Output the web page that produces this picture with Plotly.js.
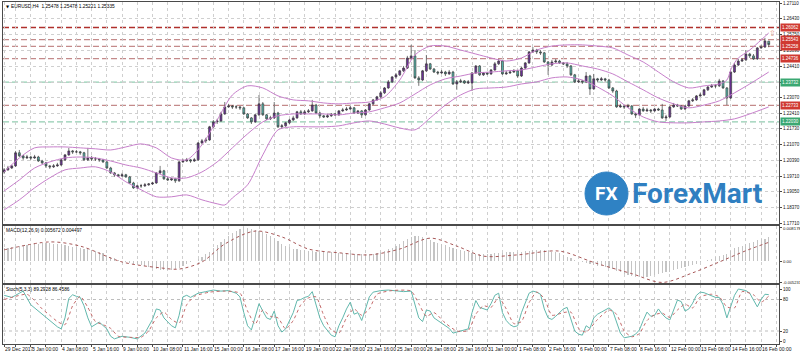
<!DOCTYPE html>
<html><head><meta charset="utf-8">
<script src="https://cdn.plot.ly/plotly-3.0.1.min.js"></script>
<style>html,body{margin:0;padding:0;background:#fff;}#chart{width:800px;height:354px;}</style>
</head><body><div id="chart"></div>
<script>
// ---------- DATA ----------
const timeLabels = ["29 Dec 2017","3 Jan 00:00","4 Jan 08:00","5 Jan 16:00","9 Jan 00:00","10 Jan 08:00","11 Jan 16:00","15 Jan 00:00","16 Jan 08:00","17 Jan 16:00","19 Jan 00:00","22 Jan 08:00","23 Jan 16:00","25 Jan 00:00","26 Jan 08:00","29 Jan 16:00","31 Jan 00:00","1 Feb 08:00","2 Feb 16:00","6 Feb 00:00","7 Feb 08:00","8 Feb 16:00","12 Feb 00:00","13 Feb 08:00","14 Feb 16:00","16 Feb 00:00"];
const timeLabelIdx = [0,7,15,23,31,39,47,55,63,71,79,87,95,103,111,119,127,135,143,151,159,167,175,183,191,199];

const openP = [
1.1989,1.1998,1.2006,1.2015,1.2071,1.2058,1.2049,1.2053,1.2049,1.2053,
1.2036,1.2028,1.2015,1.2011,1.2015,1.2019,1.2041,1.2062,1.2079,1.2075,
1.2075,1.2071,1.2041,1.2049,1.2045,1.2045,1.2041,1.2032,1.2006,1.1985,
1.1977,1.1972,1.1977,1.1968,1.1942,1.1921,1.1930,1.1930,1.1934,1.1938,
1.1942,1.1985,1.1994,1.1960,1.1955,1.1960,1.1951,1.2032,1.2036,1.2041,
1.2036,1.2041,1.2113,1.2122,1.2126,1.2182,1.2203,1.2207,1.2237,1.2267,
1.2271,1.2267,1.2267,1.2263,1.2237,1.2220,1.2203,1.2233,1.2280,1.2233,
1.2216,1.2220,1.2241,1.2182,1.2186,1.2199,1.2211,1.2220,1.2246,1.2237,
1.2246,1.2250,1.2275,1.2241,1.2229,1.2224,1.2229,1.2237,1.2233,1.2250,
1.2254,1.2258,1.2263,1.2241,1.2250,1.2233,1.2254,1.2280,1.2297,1.2310,
1.2327,1.2348,1.2374,1.2395,1.2404,1.2421,1.2433,1.2476,1.2485,1.2391,
1.2382,1.2421,1.2451,1.2429,1.2416,1.2412,1.2416,1.2408,1.2416,1.2365,
1.2374,1.2378,1.2369,1.2369,1.2412,1.2442,1.2404,1.2412,1.2408,1.2425,
1.2451,1.2463,1.2408,1.2412,1.2416,1.2421,1.2399,1.2433,1.2455,1.2502,
1.2510,1.2502,1.2498,1.2459,1.2446,1.2459,1.2463,1.2455,1.2451,1.2442,
1.2404,1.2374,1.2378,1.2374,1.2399,1.2344,1.2387,1.2382,1.2387,1.2382,
1.2348,1.2335,1.2267,1.2271,1.2267,1.2271,1.2237,1.2233,1.2258,1.2250,
1.2254,1.2250,1.2258,1.2254,1.2220,1.2224,1.2267,1.2275,1.2271,1.2258,
1.2271,1.2293,1.2297,1.2314,1.2318,1.2340,1.2352,1.2357,1.2357,1.2378,
1.2348,1.2305,1.2416,1.2446,1.2463,1.2468,1.2493,1.2485,1.2472,1.2519,
1.2523,1.25478];
const highP = [
1.2006,1.2015,1.2019,1.2079,1.2083,1.2062,1.2062,1.2058,1.2062,1.2058,
1.2041,1.2032,1.2019,1.2023,1.2028,1.2045,1.2066,1.2092,1.2083,1.2083,
1.2079,1.2075,1.2092,1.2058,1.2053,1.2049,1.2045,1.2036,1.2011,1.1989,
1.1981,1.1985,1.1981,1.1972,1.1947,1.1934,1.1938,1.1942,1.1942,1.1947,
1.1989,1.2015,1.1998,1.1968,1.1964,1.1964,1.2036,1.2045,1.2049,1.2045,
1.2049,1.2117,1.2130,1.2135,1.2186,1.2211,1.2216,1.2246,1.2288,1.2280,
1.2275,1.2275,1.2271,1.2267,1.2241,1.2224,1.2237,1.2318,1.2288,1.2237,
1.2229,1.2288,1.2246,1.2194,1.2203,1.2216,1.2229,1.2250,1.2254,1.2254,
1.2258,1.2297,1.2280,1.2246,1.2233,1.2237,1.2241,1.2241,1.2254,1.2263,
1.2267,1.2271,1.2267,1.2254,1.2254,1.2258,1.2284,1.2301,1.2314,1.2335,
1.2352,1.2382,1.2399,1.2412,1.2425,1.2442,1.2485,1.2532,1.2510,1.2399,
1.2425,1.2489,1.2455,1.2433,1.2421,1.2425,1.2421,1.2425,1.2421,1.2382,
1.2387,1.2382,1.2382,1.2416,1.2446,1.2446,1.2416,1.2416,1.2429,1.2459,
1.2472,1.2468,1.2421,1.2425,1.2429,1.2425,1.2438,1.2459,1.2506,1.2523,
1.2515,1.2510,1.2502,1.2463,1.2468,1.2472,1.2468,1.2459,1.2459,1.2446,
1.2408,1.2387,1.2382,1.2416,1.2404,1.2408,1.2391,1.2395,1.2391,1.2387,
1.2352,1.2340,1.2280,1.2275,1.2280,1.2275,1.2241,1.2263,1.2267,1.2263,
1.2258,1.2263,1.2263,1.2280,1.2233,1.2271,1.2284,1.2280,1.2275,1.2275,
1.2297,1.2305,1.2318,1.2327,1.2344,1.2357,1.2365,1.2365,1.2387,1.2382,
1.2352,1.2421,1.2455,1.2472,1.2476,1.2510,1.2498,1.2493,1.2523,1.2532,
1.2562,1.25478];
const lowP = [
1.1981,1.1994,1.2002,1.2011,1.2053,1.2041,1.2045,1.2041,1.2045,1.2032,
1.2023,1.2006,1.2002,1.2006,1.2011,1.2015,1.2036,1.2058,1.2066,1.2071,
1.2062,1.2036,1.2036,1.2036,1.2036,1.2032,1.2028,1.2002,1.1981,1.1968,
1.1968,1.1968,1.1964,1.1938,1.1917,1.1917,1.1921,1.1925,1.1930,1.1934,
1.1938,1.1981,1.1955,1.1951,1.1951,1.1942,1.1947,1.2028,1.2032,1.2028,
1.2032,1.2036,1.2109,1.2113,1.2122,1.2177,1.2194,1.2203,1.2233,1.2263,
1.2258,1.2258,1.2254,1.2233,1.2216,1.2194,1.2199,1.2229,1.2229,1.2211,
1.2211,1.2216,1.2177,1.2173,1.2182,1.2194,1.2207,1.2216,1.2233,1.2233,
1.2241,1.2246,1.2237,1.2220,1.2220,1.2220,1.2224,1.2229,1.2229,1.2246,
1.2250,1.2254,1.2237,1.2237,1.2220,1.2229,1.2250,1.2275,1.2293,1.2305,
1.2322,1.2344,1.2369,1.2387,1.2399,1.2416,1.2429,1.2468,1.2387,1.2357,
1.2378,1.2416,1.2425,1.2412,1.2404,1.2408,1.2399,1.2404,1.2361,1.2340,
1.2369,1.2365,1.2365,1.2335,1.2408,1.2399,1.2399,1.2404,1.2404,1.2421,
1.2446,1.2404,1.2404,1.2408,1.2412,1.2391,1.2395,1.2429,1.2451,1.2498,
1.2493,1.2489,1.2455,1.2404,1.2442,1.2455,1.2451,1.2446,1.2433,1.2399,
1.2369,1.2369,1.2365,1.2369,1.2318,1.2340,1.2374,1.2378,1.2374,1.2344,
1.2327,1.2263,1.2263,1.2258,1.2263,1.2233,1.2220,1.2229,1.2246,1.2246,
1.2241,1.2246,1.2250,1.2216,1.2207,1.2220,1.2263,1.2267,1.2254,1.2254,
1.2267,1.2288,1.2293,1.2310,1.2314,1.2335,1.2348,1.2348,1.2352,1.2344,
1.2275,1.2301,1.2412,1.2442,1.2459,1.2463,1.2476,1.2468,1.2468,1.2515,
1.2519,1.25221];
const closeP = [
1.1998,1.2006,1.2015,1.2071,1.2058,1.2049,1.2053,1.2049,1.2053,1.2036,
1.2028,1.2015,1.2011,1.2015,1.2019,1.2041,1.2062,1.2079,1.2075,1.2075,
1.2071,1.2041,1.2049,1.2045,1.2045,1.2041,1.2032,1.2006,1.1985,1.1977,
1.1972,1.1977,1.1968,1.1942,1.1921,1.1930,1.1930,1.1934,1.1938,1.1942,
1.1985,1.1994,1.1960,1.1955,1.1960,1.1951,1.2032,1.2036,1.2041,1.2036,
1.2041,1.2113,1.2122,1.2126,1.2182,1.2203,1.2207,1.2237,1.2267,1.2271,
1.2267,1.2267,1.2263,1.2237,1.2220,1.2203,1.2233,1.2280,1.2233,1.2216,
1.2220,1.2241,1.2182,1.2186,1.2199,1.2211,1.2220,1.2246,1.2237,1.2246,
1.2250,1.2275,1.2241,1.2229,1.2224,1.2229,1.2237,1.2233,1.2250,1.2254,
1.2258,1.2263,1.2241,1.2250,1.2233,1.2254,1.2280,1.2297,1.2310,1.2327,
1.2348,1.2374,1.2395,1.2404,1.2421,1.2433,1.2476,1.2485,1.2391,1.2382,
1.2421,1.2451,1.2429,1.2416,1.2412,1.2416,1.2408,1.2416,1.2365,1.2374,
1.2378,1.2369,1.2374,1.2412,1.2442,1.2404,1.2412,1.2408,1.2425,1.2451,
1.2463,1.2408,1.2412,1.2416,1.2421,1.2399,1.2433,1.2455,1.2502,1.2510,
1.2502,1.2498,1.2459,1.2446,1.2459,1.2463,1.2455,1.2451,1.2442,1.2404,
1.2374,1.2378,1.2374,1.2399,1.2344,1.2387,1.2382,1.2387,1.2382,1.2348,
1.2335,1.2267,1.2271,1.2267,1.2271,1.2237,1.2233,1.2258,1.2250,1.2254,
1.2250,1.2258,1.2254,1.2220,1.2224,1.2267,1.2275,1.2271,1.2258,1.2271,
1.2293,1.2297,1.2314,1.2318,1.2340,1.2352,1.2357,1.2357,1.2378,1.2348,
1.2305,1.2416,1.2446,1.2463,1.2468,1.2493,1.2485,1.2472,1.2519,1.2523,
1.2549,1.25335];

// Bollinger bands (bar index, price)
const bbUpIdx = [0,4,8,12,16,20,24,28,32,36,40,44,48,52,56,60,64,68,72,76,80,84,88,92,96,100,104,108,112,116,120,124,128,132,136,140,144,148,152,156,160,164,168,172,176,180,184,188,190,191,192,193,196,199,201];
const bbUp = [1.1989,1.2049,1.2092,1.2096,1.2096,1.2092,1.2088,1.2083,1.2096,1.2109,1.2092,1.2049,1.2041,1.2105,1.2211,1.2318,1.2357,1.2348,1.2314,1.2297,1.2293,1.2284,1.2280,1.2284,1.2288,1.2310,1.2382,1.2489,1.2527,1.2527,1.2510,1.2493,1.2476,1.2463,1.2476,1.2510,1.2527,1.2532,1.2532,1.2527,1.2519,1.2489,1.2459,1.2416,1.2374,1.2348,1.2357,1.2365,1.2382,1.2425,1.2455,1.2476,1.2510,1.2553,1.2583];
const bbMidIdx = [0,4,8,12,16,20,24,28,32,36,40,44,48,52,56,60,64,68,72,76,80,84,88,92,96,100,104,108,112,116,120,124,128,132,136,140,144,148,152,156,160,164,168,172,176,180,184,188,192,196,201];
const bbMid = [1.1908,1.1955,1.2006,1.2032,1.2049,1.2053,1.2049,1.2036,1.2019,1.2006,1.1985,1.1964,1.1964,1.1989,1.2032,1.2092,1.2152,1.2203,1.2229,1.2237,1.2237,1.2237,1.2233,1.2241,1.2246,1.2263,1.2284,1.2322,1.2361,1.2387,1.2399,1.2412,1.2416,1.2421,1.2425,1.2438,1.2451,1.2455,1.2442,1.2429,1.2408,1.2374,1.2340,1.2305,1.2280,1.2263,1.2275,1.2293,1.2327,1.2365,1.2416];
const bbLowIdx = [0,4,8,12,16,20,24,28,32,36,40,44,48,52,56,58,60,64,68,72,76,80,84,88,92,96,100,104,108,112,116,120,124,128,132,136,140,144,148,152,156,160,164,168,172,176,180,184,188,192,196,201];
const bbLow = [1.1827,1.1870,1.1921,1.1964,1.1998,1.2006,1.2011,1.1989,1.1947,1.1913,1.1883,1.1883,1.1891,1.1870,1.1853,1.1848,1.1878,1.1934,1.2062,1.2169,1.2182,1.2182,1.2182,1.2186,1.2199,1.2207,1.2194,1.2177,1.2169,1.2220,1.2275,1.2318,1.2344,1.2348,1.2352,1.2365,1.2374,1.2391,1.2395,1.2382,1.2352,1.2314,1.2263,1.2224,1.2203,1.2199,1.2199,1.2203,1.2207,1.2216,1.2237,1.2267];

// Horizontal levels
const redLevels = [1.26062,1.25543,1.25258,1.24736,1.22733];
const greenLevels = [1.23732,1.22030];
const priceTicks = [1.27110,1.26430,1.25750,1.25090,1.24410,1.23730,1.23070,1.22410,1.21730,1.21070,1.20390,1.19710,1.19050,1.18370,1.17710];

// MACD(12,26,9)
const macdMain = [
0.0031,0.0032,0.0033,0.0035,0.0036,0.0038,0.0039,0.0040,0.0041,0.0042,
0.0043,0.0043,0.0043,0.0042,0.0041,0.0040,0.0038,0.0036,0.0035,0.0033,
0.0032,0.0030,0.0028,0.0026,0.0024,0.0022,0.0019,0.0015,0.0011,0.0007,
0.0003,0.0000,-0.0002,-0.0004,-0.0006,-0.0008,-0.0010,-0.0012,-0.0014,-0.0017,
-0.0019,-0.0021,-0.0022,-0.0022,-0.0021,-0.0019,-0.0016,-0.0012,-0.0008,-0.0003,
0.0001,0.0005,0.0010,0.0016,0.0023,0.0031,0.0038,0.0045,0.0052,0.0060,
0.0068,0.0073,0.0077,0.0081,0.0080,0.0077,0.0075,0.0073,0.0070,0.0066,
0.0061,0.0055,0.0048,0.0041,0.0036,0.0033,0.0030,0.0028,0.0027,0.0026,
0.0025,0.0024,0.0023,0.0022,0.0022,0.0021,0.0021,0.0020,0.0020,0.0020,
0.0019,0.0019,0.0018,0.0018,0.0017,0.0017,0.0017,0.0018,0.0019,0.0021,
0.0024,0.0028,0.0032,0.0036,0.0042,0.0048,0.0054,0.0058,0.0060,0.0060,
0.0058,0.0055,0.0051,0.0047,0.0044,0.0041,0.0038,0.0035,0.0032,0.0029,
0.0026,0.0024,0.0022,0.0020,0.0018,0.0017,0.0017,0.0017,0.0018,0.0019,
0.0020,0.0020,0.0021,0.0021,0.0022,0.0022,0.0023,0.0024,0.0025,0.0026,
0.0027,0.0027,0.0026,0.0025,0.0023,0.0022,0.0019,0.0015,0.0011,0.0007,
0.0003,0.0000,-0.0003,-0.0005,-0.0008,-0.0010,-0.0011,-0.0012,-0.0014,-0.0017,
-0.0020,-0.0023,-0.0027,-0.0030,-0.0033,-0.0035,-0.0037,-0.0038,-0.0038,-0.0037,
-0.0035,-0.0033,-0.0031,-0.0029,-0.0027,-0.0025,-0.0022,-0.0020,-0.0017,-0.0015,
-0.0012,-0.0009,-0.0006,-0.0003,0.0000,0.0003,0.0006,0.0009,0.0012,0.0015,
0.0016,0.0024,0.0031,0.0034,0.0037,0.0040,0.0043,0.0046,0.0050,0.0052,
0.0054,0.005672];
const macdSigIdx = [0,12,20,31,41,46,52,58,66,73,80,88,96,104,112,119,126,135,146,154,157,165,173,181,188,195,201];
const macdSig = [0.0027,0.0046,0.0036,-0.0002,-0.0016,-0.0019,-0.0002,0.0041,0.0072,0.0058,0.0029,0.0020,0.0015,0.0029,0.0055,0.0036,0.0012,0.0015,0.0024,0.0000,-0.0009,-0.0030,-0.0051,-0.0028,-0.0002,0.0025,0.004497];
const macdAxisLabels = ["0.008178","0.00","-0.005231"];
const macdAxisVals = [0.008178, 0, -0.005231];

// Stochastic(5,3,3)
const stochKIdx = [0,2,4,5,7,9,10,12,14,15,16,17,18,19,20,21,22,23,25,27,28,29,30,31,33,35,37,39,40,41,42,44,45,46,47,48,49,50,51,53,55,57,59,61,62,63,64,65,66,67,68,69,70,71,72,73,74,75,76,77,78,79,80,81,82,83,84,85,86,87,88,89,90,91,92,93,94,95,96,97,99,101,103,105,107,108,109,110,111,112,113,115,117,118,119,120,121,122,123,124,125,126,127,128,129,130,131,132,133,134,135,136,137,138,139,140,141,142,143,144,145,146,147,148,149,150,151,152,153,154,155,156,157,158,159,160,161,162,163,164,165,166,167,168,169,170,171,172,173,174,175,176,177,178,179,180,181,182,183,184,185,186,187,188,189,190,191,192,193,194,195,196,197,198,199,200,201];
const stochK = [88,84,92,96,70,58,52,41,28,24,45,82,89,86,84,68,45,28,37,24,10,5,7,10,8,5,16,42,62,60,45,30,26,50,85,88,84,88,92,95,98,96,97,92,85,55,30,22,48,72,58,45,42,58,30,18,24,40,55,78,80,84,86,95,72,45,30,22,12,9,30,45,62,75,52,55,40,62,85,94,97,98,96,95,96,70,45,38,60,58,45,35,25,16,18,20,22,24,55,78,65,62,60,72,88,92,55,40,32,28,30,55,75,92,96,94,90,62,45,42,48,55,62,65,40,20,14,12,30,25,45,52,56,60,64,58,35,16,7,8,10,14,22,40,56,48,50,62,52,45,41,60,79,76,58,62,73,88,94,93,90,86,84,84,70,45,65,88,100,99,97,92,78,66,80,90,89.2928];
const stochDIdx = [0,3,6,8,10,12,14,16,18,20,22,24,26,28,30,33,36,38,40,42,44,46,48,50,54,58,62,64,66,68,70,72,74,76,78,80,82,84,86,88,90,92,94,96,98,102,107,109,111,113,116,119,122,124,126,128,130,132,134,136,138,140,142,144,147,149,151,153,156,159,161,163,165,167,169,171,173,175,177,179,181,183,186,188,190,192,194,197,199,201];
const stochD = [80,86,90,78,62,50,38,32,68,86,65,38,32,25,10,8,8,20,45,56,42,35,70,86,94,96,92,58,33,60,48,45,24,40,70,83,85,50,22,16,45,62,50,62,90,97,96,72,48,55,35,20,21,52,68,65,84,62,34,38,74,94,82,50,55,56,25,18,42,60,52,20,9,15,40,51,54,46,60,71,64,85,90,85,66,64,95,89,75,86.4586];
const stochLevels = [80,20];
const stochAxisVals = [100,80,20,0];

// ---------- LAYOUT HELPERS ----------
const FONT = 'Liberation Sans, Arial, sans-serif';
const L = 3, R = 779, T = 2, B = 344;
const px = x => (x - L) / (R - L);
const py = y => (B - y) / (B - T);

const n = closeP.length;
const idx = Array.from({length: n}, (_, i) => i);

// grid ticks every 4 bars (labels every 8 bars drawn as annotations)
const tickVals = [];
for (let i = 0; i <= 203; i++) {
  if (timeLabelIdx.indexOf(i) >= 0 || (i >= 3 && (i - 3) % 8 === 0)) tickVals.push(i);
}

const BULL = '#6e2f9e', BEAR = '#55b9ae', WICK = '#3c3c3c';
const BB = '#c77fcb';

const traces = [
  {type:'candlestick', x: idx, open: openP, high: highP, low: lowP, close: closeP,
   xaxis:'x', yaxis:'y', whiskerwidth: 0, hoverinfo:'skip',
   increasing:{line:{color:WICK, width:0.7}, fillcolor:BULL},
   decreasing:{line:{color:WICK, width:0.7}, fillcolor:BEAR}},
  {type:'scatter', mode:'lines', x: bbUpIdx, y: bbUp, xaxis:'x', yaxis:'y', line:{color:BB, width:1, shape:'spline', smoothing:0.8}, hoverinfo:'skip'},
  {type:'scatter', mode:'lines', x: bbMidIdx, y: bbMid, xaxis:'x', yaxis:'y', line:{color:BB, width:1, shape:'spline', smoothing:0.8}, hoverinfo:'skip'},
  {type:'scatter', mode:'lines', x: bbLowIdx, y: bbLow, xaxis:'x', yaxis:'y', line:{color:BB, width:1, shape:'spline', smoothing:0.8}, hoverinfo:'skip'},
  {type:'bar', x: idx, y: macdMain, xaxis:'x2', yaxis:'y2', width:0.3, marker:{color:'#c4c4c4', line:{width:0}}, hoverinfo:'skip'},
  {type:'scatter', mode:'lines', x: macdSigIdx, y: macdSig, xaxis:'x2', yaxis:'y2', line:{color:'#a85858', width:1, dash:'dot', shape:'spline', smoothing:0.9}, hoverinfo:'skip'},
  {type:'scatter', mode:'lines', x: stochKIdx, y: stochK, xaxis:'x3', yaxis:'y3', line:{color:'#62b8ad', width:1}, hoverinfo:'skip'},
  {type:'scatter', mode:'lines', x: stochDIdx, y: stochD, xaxis:'x3', yaxis:'y3', line:{color:'#c46a6a', width:1, dash:'dot', shape:'spline', smoothing:0.6}, hoverinfo:'skip'}
];

const xBase = {range:[-0.3, 203.7], tickvals: tickVals, showgrid:true, gridcolor:'#cfcfcf', griddash:'dot', gridwidth:1,
  zeroline:false, showline:true, mirror:true, linecolor:'#4a4a4a', linewidth:1, ticks:'', showticklabels:false, fixedrange:true, automargin:false};
const yBase = {side:'right', zeroline:false, showline:true, mirror:true, linecolor:'#4a4a4a', linewidth:1, ticks:'outside', ticklen:2, tickcolor:'#4a4a4a',
  tickfont:{family:FONT, size:4.5, color:'#111'}, fixedrange:true, automargin:false};

const shapes = [];
redLevels.forEach((v, k) => shapes.push({type:'line', xref:'paper', x0:0, x1:1, yref:'y', y0:v, y1:v, layer:'below',
  line:{color: k === 0 ? '#b0302c' : '#c48a8a', width: k === 0 ? 1.4 : 1.2, dash:'6px,3px'}}));
greenLevels.forEach(v => shapes.push({type:'line', xref:'paper', x0:0, x1:1, yref:'y', y0:v, y1:v, layer:'below',
  line:{color:'#93cdb1', width:1.2, dash:'6px,3px'}}));
stochLevels.forEach(v => shapes.push({type:'line', xref:'paper', x0:0, x1:1, yref:'y3', y0:v, y1:v, layer:'below',
  line:{color:'#bdbdbd', width:1, dash:'dot'}}));
// logo disc
shapes.push({type:'circle', xref:'paper', yref:'paper', x0:px(585), x1:px(628), y0:py(215), y1:py(172), fillcolor:'#2f82c4', line:{color:'#2f82c4', width:1}, layer:'above'});

const annotations = [
  {xref:'paper', yref:'paper', x:px(4), y:py(6.5), xanchor:'left', yanchor:'middle', showarrow:false, text:'▼', font:{family:'DejaVu Sans', size:4, color:'#000'}},
  {xref:'paper', yref:'paper', x:px(9), y:py(6.5), xanchor:'left', yanchor:'middle', showarrow:false, text:'EURUSD,H4  1.25478 1.25478 1.25221 1.25335', font:{family:FONT, size:4.8, color:'#000'}},
  {xref:'paper', yref:'paper', x:px(4), y:py(230.5), xanchor:'left', yanchor:'middle', showarrow:false, text:'MACD(12,26,9) 0.005672 0.004497', font:{family:FONT, size:4.8, color:'#000'}},
  {xref:'paper', yref:'paper', x:px(4), y:py(289.5), xanchor:'left', yanchor:'middle', showarrow:false, text:'Stoch(5,3,3) 89.2928 86.4586', font:{family:FONT, size:4.8, color:'#000'}},
  {xref:'paper', yref:'paper', x:px(606.5), y:py(193.5), xanchor:'center', yanchor:'middle', showarrow:false, text:'<b>FX</b>', font:{family:'Roboto, Open Sans, sans-serif', size:19, color:'#ffffff'}},
  {xref:'paper', yref:'paper', x:px(630), y:py(193), xanchor:'left', yanchor:'middle', showarrow:false, text:'<b>ForexMart</b>', font:{family:'Roboto, Open Sans, sans-serif', size:28, color:'#2f7fc1'}},
  {xref:'paper', yref:'paper', x:px(772), y:py(33), xanchor:'center', yanchor:'middle', showarrow:false, text:'⇧', font:{family:'DejaVu Sans', size:8, color:'#e6a08f'}}
];
// time labels under the bottom panel
timeLabels.forEach((t, k) => annotations.push({xref:'x3', x: timeLabelIdx[k], yref:'paper', y: py(348.5), xanchor:'left', yanchor:'middle',
  xshift:-1, showarrow:false, text:t, font:{family:FONT, size:5, color:'#111'}}));
// MACD scale labels
macdAxisLabels.forEach((t, k) => annotations.push({xref:'paper', x:px(781), yref:'y2', y: macdAxisVals[k], xanchor:'left', yanchor:'middle',
  yshift: k === 0 ? -1.5 : 0, showarrow:false, text:t, font:{family:FONT, size: k === 2 ? 4.0 : 4.3, color:'#111'}}));
// price boxes
redLevels.forEach(v => annotations.push({xref:'paper', x:1, xanchor:'left', xshift:1, yref:'y', y:v, yanchor:'middle', showarrow:false,
  text:v.toFixed(5), bgcolor:'#d03a32', borderpad:1, font:{family:FONT, size:4.5, color:'#ffffff'}}));
greenLevels.forEach(v => annotations.push({xref:'paper', x:1, xanchor:'left', xshift:1, yref:'y', y:v, yanchor:'middle', showarrow:false,
  text:v.toFixed(5), bgcolor:'#3aa872', borderpad:1, font:{family:FONT, size:4.5, color:'#ffffff'}}));

const layout = {
  width:800, height:354, margin:{l:L, r:800-R, t:T, b:354-B, pad:0},
  paper_bgcolor:'#ffffff', plot_bgcolor:'#ffffff', showlegend:false, hovermode:false, dragmode:false,
  bargap:0,
  xaxis: Object.assign({}, xBase, {anchor:'y', rangeslider:{visible:false}}),
  xaxis2: Object.assign({}, xBase, {anchor:'y2'}),
  xaxis3: Object.assign({}, xBase, {anchor:'y3', ticks:'outside', ticklen:2, tickcolor:'#4a4a4a'}),
  yaxis: Object.assign({}, yBase, {anchor:'x', domain:[py(224), 1], range:[1.176673, 1.271527], tickvals: priceTicks,
     ticktext: priceTicks.map(v => v.toFixed(5)), showgrid:true, gridcolor:'#cfcfcf', griddash:'dot'}),
  yaxis2: Object.assign({}, yBase, {anchor:'x2', domain:[py(283), py(226)], range:[-0.00524, 0.008417],
     tickvals: macdAxisVals, showticklabels:false, showgrid:false}),
  yaxis3: Object.assign({}, yBase, {anchor:'x3', domain:[0, py(285)], range:[-4.76, 107.62],
     tickvals: stochAxisVals, ticktext: stochAxisVals.map(String), showgrid:false}),
  shapes: shapes, annotations: annotations
};

Plotly.newPlot('chart', traces, layout, {staticPlot:true, displayModeBar:false});
</script>
</body></html>
